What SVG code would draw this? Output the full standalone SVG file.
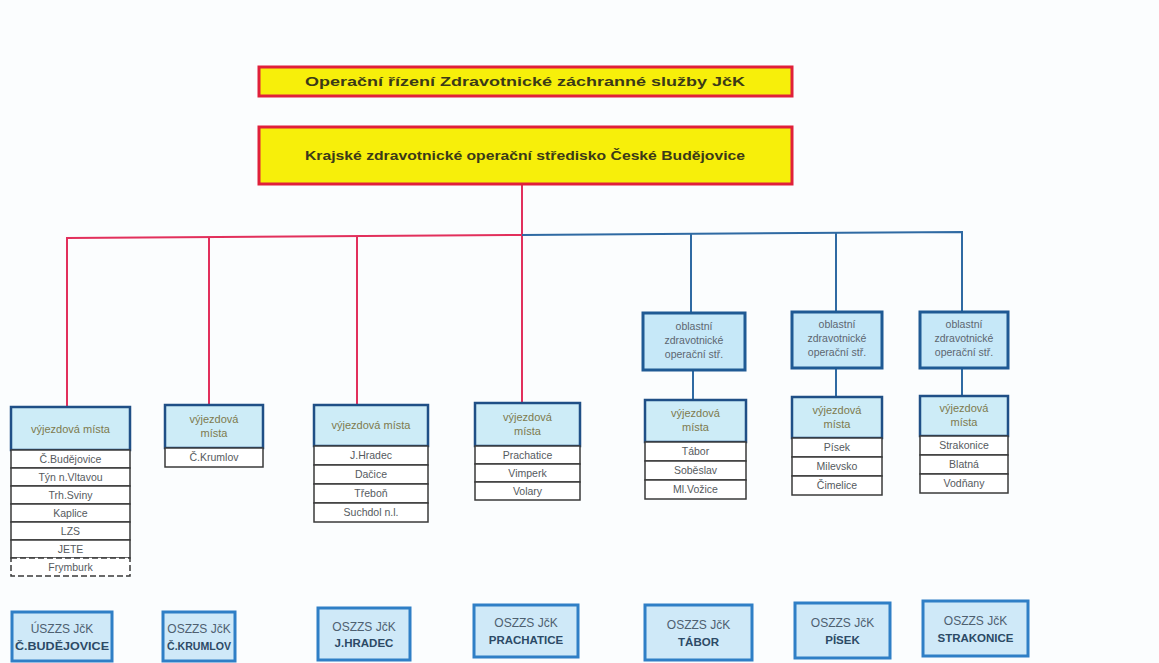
<svg xmlns="http://www.w3.org/2000/svg" width="1159" height="663" viewBox="0 0 1159 663">
<style>
  .top{fill:#f7ef0a;stroke:#e0203a;stroke-width:3}
  .ttxt{font-family:"Liberation Sans",Arial,sans-serif;font-weight:bold;fill:#3b3a18;text-anchor:middle}
  .hdr{fill:#cdecf7;stroke:#1f4f86;stroke-width:2.5}
  .obl{fill:#c6e8f8;stroke:#1f5a94;stroke-width:3}
  .row{fill:#ffffff;stroke:#3a3a3a;stroke-width:1.5}
  .rowd{fill:#ffffff;stroke:#3a3a3a;stroke-width:1.5;stroke-dasharray:6 3}
  .htxt{font-family:"Liberation Sans",Arial,sans-serif;font-size:11px;fill:#7d7a4e;text-anchor:middle}
  .otxt{font-family:"Liberation Sans",Arial,sans-serif;font-size:10.5px;fill:#5d6670;text-anchor:middle}
  .rtxt{font-family:"Liberation Sans",Arial,sans-serif;font-size:10.5px;fill:#555a5e;text-anchor:middle}
  .bot{fill:#cfe9f8;stroke:#2f7fc6;stroke-width:3}
  .b1{font-family:"Liberation Sans",Arial,sans-serif;font-size:12px;fill:#4e6070;text-anchor:middle}
  .b2{font-family:"Liberation Sans",Arial,sans-serif;font-size:11.5px;font-weight:bold;fill:#2c4a66;text-anchor:middle}
  .red{stroke:#e2305c;stroke-width:2;fill:none}
  .blue{stroke:#2f6aa3;stroke-width:2;fill:none}
</style>
<rect x="0" y="0" width="1159" height="663" fill="#fbfdfe"/>

<g id="connectors">
  <line class="red" x1="522" y1="185" x2="522" y2="236"/>
  <polyline class="red" points="67,407 67,238 522,235"/>
  <line class="red" x1="209" y1="237" x2="209" y2="405"/>
  <line class="red" x1="357" y1="236" x2="357" y2="405"/>
  <line class="red" x1="522" y1="235" x2="522" y2="403"/>
  <polyline class="blue" points="522,235 962,232 962,312"/>
  <line class="blue" x1="691" y1="234" x2="691" y2="313"/>
  <line class="blue" x1="836" y1="233" x2="836" y2="312"/>
  <line class="blue" x1="693" y1="370" x2="693" y2="400"/>
  <line class="blue" x1="836" y1="368" x2="836" y2="397"/>
  <line class="blue" x1="962" y1="368" x2="962" y2="396"/>
</g>

<g id="rizeni">
  <rect class="top" x="259" y="67" width="533" height="29"/>
  <text class="ttxt" x="525" y="86" font-size="13.5" textLength="440" lengthAdjust="spacingAndGlyphs">Operační řízení Zdravotnické záchranné služby JčK</text>
</g>
<g id="kzos">
  <rect class="top" x="259" y="127" width="533" height="57"/>
  <text class="ttxt" x="525" y="160" font-size="12.5" textLength="440" lengthAdjust="spacingAndGlyphs">Krajské zdravotnické operační středisko České Budějovice</text>
</g>

<g id="vm-cb">
  <rect class="hdr" x="11" y="407" width="119" height="43"/>
  <text class="htxt" x="70.5" y="433">výjezdová místa</text>
  <rect class="row" x="11" y="450" width="119" height="18"/><text class="rtxt" x="70.5" y="463">Č.Budějovice</text>
  <rect class="row" x="11" y="468" width="119" height="18"/><text class="rtxt" x="70.5" y="481">Týn n.Vltavou</text>
  <rect class="row" x="11" y="486" width="119" height="18"/><text class="rtxt" x="70.5" y="499">Trh.Sviny</text>
  <rect class="row" x="11" y="504" width="119" height="18"/><text class="rtxt" x="70.5" y="517">Kaplice</text>
  <rect class="row" x="11" y="522" width="119" height="18"/><text class="rtxt" x="70.5" y="535">LZS</text>
  <rect class="row" x="11" y="540" width="119" height="18"/><text class="rtxt" x="70.5" y="553">JETE</text>
  <rect class="rowd" x="11" y="558" width="119" height="18"/><text class="rtxt" x="70.5" y="571">Frymburk</text>
</g>

<g id="vm-ck">
  <rect class="hdr" x="165" y="405" width="98" height="43"/>
  <text class="htxt" x="214" y="423">výjezdová</text>
  <text class="htxt" x="214" y="437">místa</text>
  <rect class="row" x="165" y="448" width="98" height="19"/><text class="rtxt" x="214" y="461">Č.Krumlov</text>
</g>

<g id="vm-jh">
  <rect class="hdr" x="314" y="405" width="114" height="41"/>
  <text class="htxt" x="371" y="429">výjezdová místa</text>
  <rect class="row" x="314" y="446" width="114" height="19"/><text class="rtxt" x="371" y="459">J.Hradec</text>
  <rect class="row" x="314" y="465" width="114" height="19"/><text class="rtxt" x="371" y="478">Dačice</text>
  <rect class="row" x="314" y="484" width="114" height="19"/><text class="rtxt" x="371" y="497">Třeboň</text>
  <rect class="row" x="314" y="503" width="114" height="19"/><text class="rtxt" x="371" y="516">Suchdol n.l.</text>
</g>

<g id="vm-pt">
  <rect class="hdr" x="475" y="403" width="105" height="43"/>
  <text class="htxt" x="527.5" y="421">výjezdová</text>
  <text class="htxt" x="527.5" y="435">místa</text>
  <rect class="row" x="475" y="446" width="105" height="18"/><text class="rtxt" x="527.5" y="459">Prachatice</text>
  <rect class="row" x="475" y="464" width="105" height="18"/><text class="rtxt" x="527.5" y="477">Vimperk</text>
  <rect class="row" x="475" y="482" width="105" height="18"/><text class="rtxt" x="527.5" y="495">Volary</text>
</g>

<g id="ozos-ta">
  <rect class="obl" x="643" y="313" width="102" height="57"/>
  <text class="otxt" x="694" y="330">oblastní</text>
  <text class="otxt" x="694" y="344">zdravotnické</text>
  <text class="otxt" x="694" y="358">operační stř.</text>
</g>
<g id="vm-ta">
  <rect class="hdr" x="645" y="400" width="101" height="42"/>
  <text class="htxt" x="695.5" y="417">výjezdová</text>
  <text class="htxt" x="695.5" y="431">místa</text>
  <rect class="row" x="645" y="442" width="101" height="19"/><text class="rtxt" x="695.5" y="455">Tábor</text>
  <rect class="row" x="645" y="461" width="101" height="19"/><text class="rtxt" x="695.5" y="474">Soběslav</text>
  <rect class="row" x="645" y="480" width="101" height="19"/><text class="rtxt" x="695.5" y="493">Ml.Vožice</text>
</g>

<g id="ozos-pi">
  <rect class="obl" x="792" y="312" width="90" height="56"/>
  <text class="otxt" x="837" y="328">oblastní</text>
  <text class="otxt" x="837" y="342">zdravotnické</text>
  <text class="otxt" x="837" y="356">operační stř.</text>
</g>
<g id="vm-pi">
  <rect class="hdr" x="792" y="397" width="90" height="41"/>
  <text class="htxt" x="837" y="414">výjezdová</text>
  <text class="htxt" x="837" y="428">místa</text>
  <rect class="row" x="792" y="438" width="90" height="19"/><text class="rtxt" x="837" y="451">Písek</text>
  <rect class="row" x="792" y="457" width="90" height="19"/><text class="rtxt" x="837" y="470">Milevsko</text>
  <rect class="row" x="792" y="476" width="90" height="19"/><text class="rtxt" x="837" y="489">Čimelice</text>
</g>

<g id="ozos-st">
  <rect class="obl" x="920" y="312" width="88" height="56"/>
  <text class="otxt" x="964" y="328">oblastní</text>
  <text class="otxt" x="964" y="342">zdravotnické</text>
  <text class="otxt" x="964" y="356">operační stř.</text>
</g>
<g id="vm-st">
  <rect class="hdr" x="920" y="396" width="88" height="40"/>
  <text class="htxt" x="964" y="412">výjezdová</text>
  <text class="htxt" x="964" y="426">místa</text>
  <rect class="row" x="920" y="436" width="88" height="19"/><text class="rtxt" x="964" y="449">Strakonice</text>
  <rect class="row" x="920" y="455" width="88" height="19"/><text class="rtxt" x="964" y="468">Blatná</text>
  <rect class="row" x="920" y="474" width="88" height="19"/><text class="rtxt" x="964" y="487">Vodňany</text>
</g>

<g id="uszzs-cb">
  <rect class="bot" x="12" y="612" width="100" height="49"/>
  <text class="b1" x="62" y="633">ÚSZZS JčK</text>
  <text class="b2" x="62" y="650" textLength="94" lengthAdjust="spacingAndGlyphs">Č.BUDĚJOVICE</text>
</g>
<g id="oszzs-ck">
  <rect class="bot" x="163" y="612" width="72" height="49"/>
  <text class="b1" x="199" y="633">OSZZS JčK</text>
  <text class="b2" x="199" y="650" textLength="64" lengthAdjust="spacingAndGlyphs">Č.KRUMLOV</text>
</g>
<g id="oszzs-jh">
  <rect class="bot" x="318" y="608" width="92" height="52"/>
  <text class="b1" x="364" y="631">OSZZS JčK</text>
  <text class="b2" x="364" y="647">J.HRADEC</text>
</g>
<g id="oszzs-pt">
  <rect class="bot" x="474" y="605" width="104" height="52"/>
  <text class="b1" x="526" y="627">OSZZS JčK</text>
  <text class="b2" x="526" y="644">PRACHATICE</text>
</g>
<g id="oszzs-ta">
  <rect class="bot" x="645" y="605" width="107" height="55"/>
  <text class="b1" x="698.5" y="629">OSZZS JčK</text>
  <text class="b2" x="698.5" y="646">TÁBOR</text>
</g>
<g id="oszzs-pi">
  <rect class="bot" x="795" y="603" width="95" height="55"/>
  <text class="b1" x="842.5" y="627">OSZZS JčK</text>
  <text class="b2" x="842.5" y="644">PÍSEK</text>
</g>
<g id="oszzs-st">
  <rect class="bot" x="923" y="601" width="105" height="55"/>
  <text class="b1" x="975.5" y="625">OSZZS JčK</text>
  <text class="b2" x="975.5" y="642">STRAKONICE</text>
</g>
</svg>
